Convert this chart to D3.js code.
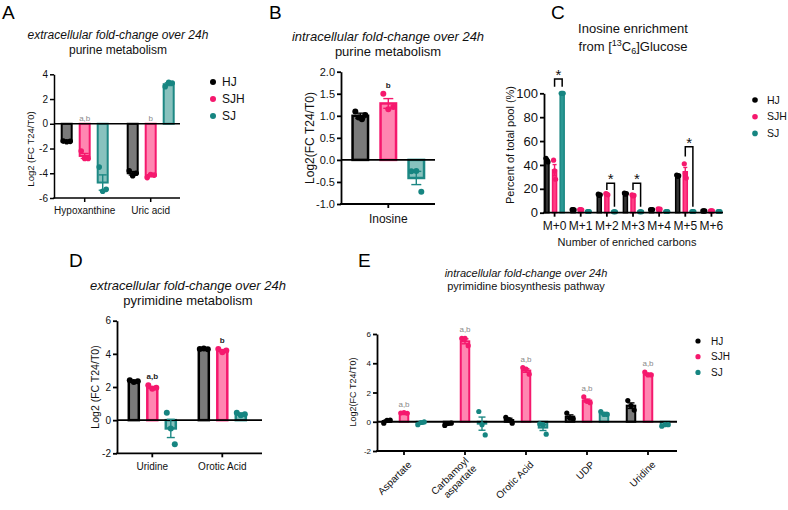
<!DOCTYPE html>
<html><head><meta charset="utf-8">
<script src="https://cdn.jsdelivr.net/npm/d3@7"></script>
<style>
body{margin:0;background:#fff}
svg{display:block}
text{font-family:"Liberation Sans",Arial,sans-serif;fill:#111}
</style>
</head><body><svg id="chart" width="788" height="510"></svg>
<script>
// ---------- shared ----------
const groups = ["HJ", "SJH", "SJ"];
const strokeColors = ["#000000", "#f5186d", "#1d8884"];
const fillColors = ["#7a7a7a", "#ff86b1", "#88c2be"];
const dotColors = ["#000000", "#f5186d", "#168581"];

// ---------- Panel A: extracellular purine ----------
const aCategories = ["Hypoxanthine", "Uric acid"];
const aMeans = [[-1.42, -4.0], [-2.6, -4.2], [-4.75, 3.2]];
const aSem = [[0.03, 0.14], [0.2, 0.08], [0.62, 0.11]];
const aPoints = [
  [[-1.4, -1.45, -1.42], [-3.8, -4.2, -4.0]],
  [[-2.2, -2.8, -2.8], [-4.35, -4.1, -4.15]],
  [[-3.5, -5.45, -5.3], [3.0, 3.35, 3.3]]
];
const aTicks = [-6, -4, -2, 0, 2, 4];
const aLetters = ["a,b", "b"];

// ---------- Panel B: intracellular inosine ----------
const bCategories = ["Inosine"];
const bMeans = [[1.0], [1.28], [-0.41]];
const bSem = [[0.06], [0.11], [0.15]];
const bPoints = [[[1.1, 0.96, 0.92, 1.02]], [[1.5, 1.15, 1.2]], [[-0.26, -0.25, -0.72]]];
const bTicks = [-1.0, -0.5, 0, 0.5, 1.0, 1.5, 2.0];
const bLetters = ["b"];

// ---------- Panel C: inosine enrichment ----------
const cCategories = ["M+0", "M+1", "M+2", "M+3", "M+4", "M+5", "M+6"];
const cMeans = [
  [44, 2.5, 15, 16, 2.5, 31, 1.5],
  [35.7, 2.5, 15.5, 14.5, 3, 34.3, 1.5],
  [100, 1, 0.8, 0.8, 1, 1, 1]
];
const cSem = [
  [1.0, 0.1, 0.3, 0.3, 0.1, 0.3, 0.1],
  [4.6, 0.1, 0.3, 0.3, 0.1, 3.6, 0.1],
  [0, 0, 0, 0, 0, 0, 0]
];
const cPoints = [
  [[45.5, 44, 42.5], [2.5, 2.6, 2.4], [15.5, 14.5, 15], [16.5, 15.5, 16], [2.5, 2.4, 2.6], [31.5, 30.5, 31], [1.5, 1.5, 1.5]],
  [[44, 35, 28], [2.6, 2.5, 2.4], [16, 15.5, 15], [15, 14, 14.5], [3.2, 2.8, 3], [41, 33, 29], [1.5, 1.5, 1.5]],
  [[100, 100, 100], [1, 1, 1], [0.8, 0.8, 0.8], [0.8, 0.8, 0.8], [1, 1, 1], [1, 1, 1], [1, 1, 1]]
];
const cTicks = [0, 20, 40, 60, 80, 100];
// significance brackets between SJH and SJ: category, bracket top, left leg end, right leg end
const cBracketCats = ["M+0", "M+2", "M+3", "M+5"];
const cBracketTop = [112, 24.6, 24.6, 55.2];
const cBracketLeft = [105.4, 19, 19, 47];
const cBracketRight = [105.4, 5, 5, 5];

// ---------- Panel D: extracellular pyrimidine ----------
const dCategories = ["Uridine", "Orotic Acid"];
const dMeans = [[2.35, 4.3], [1.97, 4.2], [-0.5, 0.37]];
const dSem = [[0.04, 0.02], [0.06, 0.06], [0.55, 0.05]];
const dPoints = [
  [[2.4, 2.3, 2.35], [4.3, 4.32, 4.27]],
  [[2.1, 1.9, 1.95], [4.3, 4.1, 4.2]],
  [[0.45, -0.5, -1.45], [0.45, 0.3, 0.35]]
];
const dTicks = [-2, 0, 2, 4, 6];
const dLetters = ["a,b", "b"];

// ---------- Panel E: intracellular pyrimidine pathway ----------
const eCategories = ["Aspartate", "Carbamoyl\naspartate", "Orotic Acid", "UDP", "Uridine"];
const eMeans = [
  [0.05, -0.15, 0.12, 0.35, 1.1],
  [0.6, 5.5, 3.5, 1.45, 3.25],
  [-0.1, -0.13, -0.4, 0.57, -0.25]
];
const eSem = [
  [0.07, 0.05, 0.12, 0.12, 0.19],
  [0.02, 0.17, 0.12, 0.1, 0.07],
  [0.06, 0.45, 0.2, 0.07, 0.03]
];
const ePoints = [
  [[-0.1, 0.1, 0.12], [-0.25, -0.12, -0.1], [0.3, 0.15, -0.1], [0.6, 0.25, 0.2], [1.45, 1.1, 0.8]],
  [[0.6, 0.62, 0.58], [5.7, 5.7, 5.2], [3.7, 3.6, 3.25], [1.7, 1.4, 1.3], [3.4, 3.2, 3.2]],
  [[-0.2, -0.05, 0.0], [0.7, -0.2, -0.9], [-0.15, -0.2, -0.85], [0.7, 0.5, 0.5], [-0.3, -0.2, -0.2]]
];
const eTicks = [-2, 0, 2, 4, 6];
const eLetters = ["a,b", "a,b", "a,b", "a,b", "a,b"];

// ---------- drawing ----------
const svg = d3.select("#chart");
const fmtMinus = v => (v < 0 ? "-" : "") + d3.format("d")(Math.abs(v));
const fmt1 = v => (v < 0 ? "-" : "") + Math.abs(v).toFixed(1);

function panelLabel(t, x, y) {
  svg.append("text").attr("x", x).attr("y", y).text(t)
    .style("font-family", "'Liberation Sans',Arial,sans-serif").style("font-size", "19px").style("fill", "#000");
}
function title(lines, x, y, size, italicFirst, gap) {
  lines.forEach((l, i) => {
    svg.append("text").attr("x", x).attr("y", y + i * gap).attr("text-anchor", "middle")
      .style("font-size", size + "px").style("font-style", (i === 0 && italicFirst) ? "italic" : "normal")
      .text(l);
  });
}
function legend(x, y0, step, size, r, textGap) {
  groups.forEach((gname, i) => {
    svg.append("circle").attr("cx", x).attr("cy", y0 + i * step).attr("r", r).attr("fill", dotColors[i]);
    svg.append("text").attr("x", x + textGap).attr("y", y0 + i * step).attr("dy", "0.35em")
      .style("font-size", size + "px").text(gname);
  });
}
function yLabel(t, x, y, size) {
  svg.append("text").attr("transform", `translate(${x},${y}) rotate(-90)`).attr("text-anchor", "middle")
    .attr("dy", "0.35em").style("font-size", size + "px").text(t);
}

function barPanel(cfg) {
  const g = svg.append("g");
  const x = d3.scaleBand().domain(cfg.categories).range(cfg.xRange);
  const y = d3.scaleLinear().domain(cfg.yDomain).range(cfg.yRange);
  const gx = d3.scaleLinear().domain([0, 2]).range([-cfg.barStep, cfg.barStep]);
  const cx = (c, gi) => x(c) + x.bandwidth() / 2 + gx(gi);
  const sw = cfg.strokeW;

  // bars
  groups.forEach((gname, gi) => {
    cfg.categories.forEach((c, ci) => {
      const v = cfg.means[gi][ci];
      const y1 = y(Math.max(0, v)), y2 = y(Math.min(0, v));
      g.append("rect")
        .attr("x", cx(c, gi) - cfg.barW / 2 + sw / 2).attr("width", cfg.barW - sw)
        .attr("y", y1).attr("height", Math.max(0, y2 - y1))
        .attr("fill", cfg.fills ? cfg.fills[gi] : fillColors[gi])
        .attr("stroke", strokeColors[gi]).attr("stroke-width", sw);
    });
  });
  // zero line
  if (cfg.yDomain[0] < 0) {
    g.append("line").attr("x1", cfg.axisX).attr("x2", cfg.axisEnd).attr("y1", y(0)).attr("y2", y(0))
      .attr("stroke", "#000").attr("stroke-width", cfg.axisW);
  }
  // error bars
  groups.forEach((gname, gi) => {
    cfg.categories.forEach((c, ci) => {
      const m = cfg.means[gi][ci], s = cfg.sem[gi][ci];
      if (!s) return;
      const xc = cx(c, gi), cap = cfg.capW / 2;
      const col = strokeColors[gi];
      g.append("line").attr("x1", xc).attr("x2", xc).attr("y1", y(m - s)).attr("y2", y(m + s))
        .attr("stroke", col).attr("stroke-width", 1.4);
      [m - s, m + s].forEach(e => g.append("line").attr("x1", xc - cap).attr("x2", xc + cap)
        .attr("y1", y(e)).attr("y2", y(e)).attr("stroke", col).attr("stroke-width", 1.4));
    });
  });
  // points
  groups.forEach((gname, gi) => {
    cfg.categories.forEach((c, ci) => {
      const pts = cfg.points[gi][ci];
      const jit = d3.scaleLinear().domain([0, Math.max(1, pts.length - 1)]).range([-cfg.jitter, cfg.jitter]);
      pts.forEach((p, pi) => {
        g.append("circle").attr("cx", cx(c, gi) + (pts.length > 1 ? jit(pi) : 0)).attr("cy", y(p))
          .attr("r", cfg.dotR).attr("fill", dotColors[gi]);
      });
    });
  });
  // y axis
  const ya = g.append("g").attr("transform", `translate(${cfg.axisX},0)`)
    .call(d3.axisLeft(y).tickValues(cfg.ticks).tickSize(4).tickSizeOuter(0).tickPadding(2).tickFormat(cfg.tickFmt));
  ya.selectAll("path,line").attr("stroke", "#000").attr("stroke-width", cfg.axisW);
  ya.selectAll("text").style("font-size", cfg.tickFont + "px").style("font-family", "'Liberation Sans',Arial,sans-serif").style("fill", "#111");
  // x axis
  const yb = y(cfg.yDomain[0]);
  g.append("line").attr("x1", cfg.axisX - cfg.axisW / 2).attr("x2", cfg.axisEnd).attr("y1", yb).attr("y2", yb)
    .attr("stroke", "#000").attr("stroke-width", cfg.axisW);
  cfg.categories.forEach(c => {
    const xc = x(c) + x.bandwidth() / 2;
    g.append("line").attr("x1", xc).attr("x2", xc).attr("y1", yb).attr("y2", yb + 4)
      .attr("stroke", "#000").attr("stroke-width", cfg.axisW);
    if (cfg.rotate) {
      const lines = c.split("\n");
      const t = g.append("text").attr("text-anchor", "end")
        .attr("transform", `translate(${xc + 4},${yb + 10}) rotate(-45)`)
        .style("font-size", cfg.catFont + "px");
      lines.forEach((l, li) => t.append("tspan").attr("x", 0)
        .attr("dy", li === 0 ? (lines.length > 1 ? "0.05em" : "0.6em") : "1.1em").text(l));
    } else {
      g.append("text").attr("x", xc).attr("y", yb + cfg.catDy).attr("text-anchor", "middle")
        .style("font-size", cfg.catFont + "px").text(c);
    }
  });
  // letters above SJH
  if (cfg.letters) {
    cfg.categories.forEach((c, ci) => {
      const top = Math.max(0, d3.max(cfg.points[1][ci]), cfg.means[1][ci] + cfg.sem[1][ci]);
      g.append("text").attr("x", cx(c, 1)).attr("y", y(top) - (top > 0 ? 6 : 3)).attr("text-anchor", "middle")
        .style("font-size", "8px").style("font-weight", cfg.letterBold ? "bold" : "normal")
        .style("fill", cfg.letterColor).text(cfg.letters[ci]);
    });
  }
  return {x, y, cx};
}

// ----- Panel A -----
panelLabel("A", 2, 19);
title(["extracellular fold-change over 24h", "purine metabolism"], 118, 39, 12, true, 14.5);
barPanel({categories: aCategories, means: aMeans, sem: aSem, points: aPoints, ticks: aTicks,
  yDomain: [-6, 4], yRange: [198, 74.3], xRange: [51.7, 183.7], axisX: 54, axisEnd: 180,
  barW: 12, barStep: 18, strokeW: 2, capW: 8, jitter: 3.5, dotR: 2.8, axisW: 1.5,
  tickFont: 10, tickFmt: fmtMinus, catFont: 10, catDy: 16, letters: aLetters, letterColor: "#8a8a8a"});
yLabel("Log2 (FC T24/T0)", 31, 149, 9.5);
legend(213, 82, 17, 12, 3, 9);

// ----- Panel B -----
panelLabel("B", 269, 19);
title(["intracellular fold-change over 24h", "purine metabolism"], 388, 41, 13, true, 15);
barPanel({categories: bCategories, means: bMeans, sem: bSem, points: bPoints, ticks: bTicks,
  yDomain: [-1, 2], yRange: [204, 71.7], xRange: [341, 435.6], axisX: 341, axisEnd: 435,
  barW: 18, barStep: 28, strokeW: 2.5, capW: 10, jitter: 5, dotR: 3, axisW: 1.8,
  tickFont: 11, tickFmt: fmt1, catFont: 12, catDy: 19, letters: bLetters, letterColor: "#222", letterBold: true});
yLabel("Log2(FC T24/T0)", 310, 138, 12);

// ----- Panel C -----
panelLabel("C", 551, 19);
svg.append("text").attr("x", 633).attr("y", 33).attr("text-anchor", "middle").style("font-size", "13px").text("Inosine enrichment");
{
  const t = svg.append("text").attr("x", 633).attr("y", 51).attr("text-anchor", "middle").style("font-size", "13px");
  t.append("tspan").text("from [");
  t.append("tspan").attr("dy", "-5").style("font-size", "9px").text("13");
  t.append("tspan").attr("dy", "5").text("C");
  t.append("tspan").attr("dy", "3").style("font-size", "9px").text("6");
  t.append("tspan").attr("dy", "-3").text("]Glucose");
}
const cp = barPanel({categories: cCategories, means: cMeans, sem: cSem, points: cPoints, ticks: cTicks,
  yDomain: [0, 100], yRange: [212.7, 93.3], xRange: [541.5, 724.5], axisX: 544, axisEnd: 723,
  barW: 5.5, barStep: 7.6, strokeW: 1.5, capW: 4, jitter: 1, dotR: 2.6, axisW: 1.8,
  tickFont: 13, tickFmt: d3.format("d"), catFont: 12, catDy: 17,
  fills: ["#333333", "#ff3d84", "#2a9894"]});
cBracketCats.forEach((c, i) => {
  const xl = cp.cx(c, 1), xr = cp.cx(c, 2), yt = cp.y(cBracketTop[i]);
  svg.append("path")
    .attr("d", `M${xl},${cp.y(cBracketLeft[i])}V${yt}H${xr}V${cp.y(cBracketRight[i])}`)
    .attr("fill", "none").attr("stroke", "#000").attr("stroke-width", 1.5);
  svg.append("text").attr("x", (xl + xr) / 2).attr("y", yt + 1).attr("text-anchor", "middle")
    .style("font-size", "15px").text("*");
});
yLabel("Percent of total pool (%)", 510, 145, 11);
svg.append("text").attr("x", 627).attr("y", 245.5).attr("text-anchor", "middle").style("font-size", "11px").text("Number of enriched carbons");
legend(755, 100, 16.7, 10.5, 2.8, 12);

// ----- Panel D -----
panelLabel("D", 69, 267);
title(["extracellular fold-change over 24h", "pyrimidine metabolism"], 188, 289.5, 13, true, 15);
barPanel({categories: dCategories, means: dMeans, sem: dSem, points: dPoints, ticks: dTicks,
  yDomain: [-2, 6], yRange: [453.3, 320.7], xRange: [117.3, 257.3], axisX: 117, axisEnd: 262,
  barW: 12.5, barStep: 18.5, strokeW: 2.5, capW: 8, jitter: 4, dotR: 3, axisW: 1.8,
  tickFont: 10, tickFmt: fmtMinus, catFont: 10, catDy: 16.5, letters: dLetters, letterColor: "#222", letterBold: true});
yLabel("Log2 (FC T24/T0)", 95, 387, 10.5);

// ----- Panel E -----
panelLabel("E", 358, 267);
title(["intracellular fold-change over 24h", "pyrimidine biosynthesis pathway"], 526, 276.5, 11, true, 13);
barPanel({categories: eCategories, means: eMeans, sem: eSem, points: ePoints, ticks: eTicks,
  yDomain: [-2, 6], yRange: [451, 334], xRange: [373.5, 678.5], axisX: 377, axisEnd: 677,
  barW: 10.5, barStep: 17, strokeW: 2, capW: 7, jitter: 3.2, dotR: 2.6, axisW: 1.8,
  tickFont: 8, tickFmt: fmtMinus, catFont: 10, rotate: true, letters: eLetters, letterColor: "#8a8a8a"});
yLabel("Log2(FC T24/T0)", 353, 392, 9);
legend(698, 341, 15.7, 10, 2.6, 13);
</script>
</body></html>
